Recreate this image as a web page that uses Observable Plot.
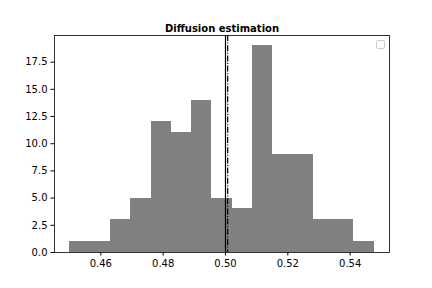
<!DOCTYPE html>
<html><head>
<meta charset="utf-8">
<script src="https://cdn.jsdelivr.net/npm/d3@7"></script>
<script src="https://cdn.jsdelivr.net/npm/@observablehq/plot@0.6"></script>
<style>body{margin:0;background:#fff} svg{display:block}</style>
</head><body><div id="chart"></div>
<script>
const binEdges = [0.4500, 0.4565, 0.4630, 0.4695, 0.4761, 0.4826, 0.4891, 0.4956, 0.5021, 0.5086, 0.5151, 0.5217, 0.5282, 0.5347, 0.5412, 0.5477];
const counts = [1, 1, 3, 5, 12, 11, 14, 5, 4, 19, 9, 9, 3, 3, 1];
const trueValue = 0.5;
const meanEstimate = 0.5007;
const xTicks = [0.46, 0.48, 0.50, 0.52, 0.54];
const yTicks = [0, 2.5, 5, 7.5, 10, 12.5, 15, 17.5];
const title = "Diffusion estimation";

const bars = counts.map((c, i) => ({x1: binEdges[i], x2: binEdges[i + 1], y: c}));

const plot = Plot.plot({
  width: 432, height: 288,
  marginLeft: 54, marginRight: 43, marginTop: 35, marginBottom: 36,
  style: {fontFamily: "DejaVu Sans", fontSize: "10px", color: "black", background: "white", overflow: "visible"},
  x: {domain: [0.44513, 0.55263]},
  y: {domain: [0, 19.95]},
  marks: [
    Plot.rectY(bars, {x1: "x1", x2: "x2", y: "y", fill: "#808080", inset: 0, shapeRendering: "crispEdges"}),
    Plot.ruleX([trueValue], {stroke: "black", strokeWidth: 1.2}),
    Plot.ruleX([meanEstimate], {stroke: "black", strokeWidth: 1.2, strokeDasharray: "6,1.6,1,1.6"}),
    Plot.frame({stroke: "black", strokeWidth: 0.8}),
    Plot.axisX({ticks: xTicks, tickFormat: ".2f", tickSize: 3.5, tickPadding: 3.5, label: null}),
    Plot.axisY({ticks: yTicks, tickFormat: ".1f", tickSize: 3.5, tickPadding: 3.5, label: null}),
    Plot.text([title], {frameAnchor: "top", dy: -11, fontWeight: "bold", fontSize: 10, text: d => d})
  ]
});

d3.select(plot).append("rect")
  .attr("x", 376.5).attr("y", 40.5).attr("width", 8).attr("height", 8)
  .attr("rx", 1.5).attr("fill", "white").attr("stroke", "#cccccc").attr("stroke-width", 1);

document.getElementById("chart").appendChild(plot);
</script>
</body></html>
